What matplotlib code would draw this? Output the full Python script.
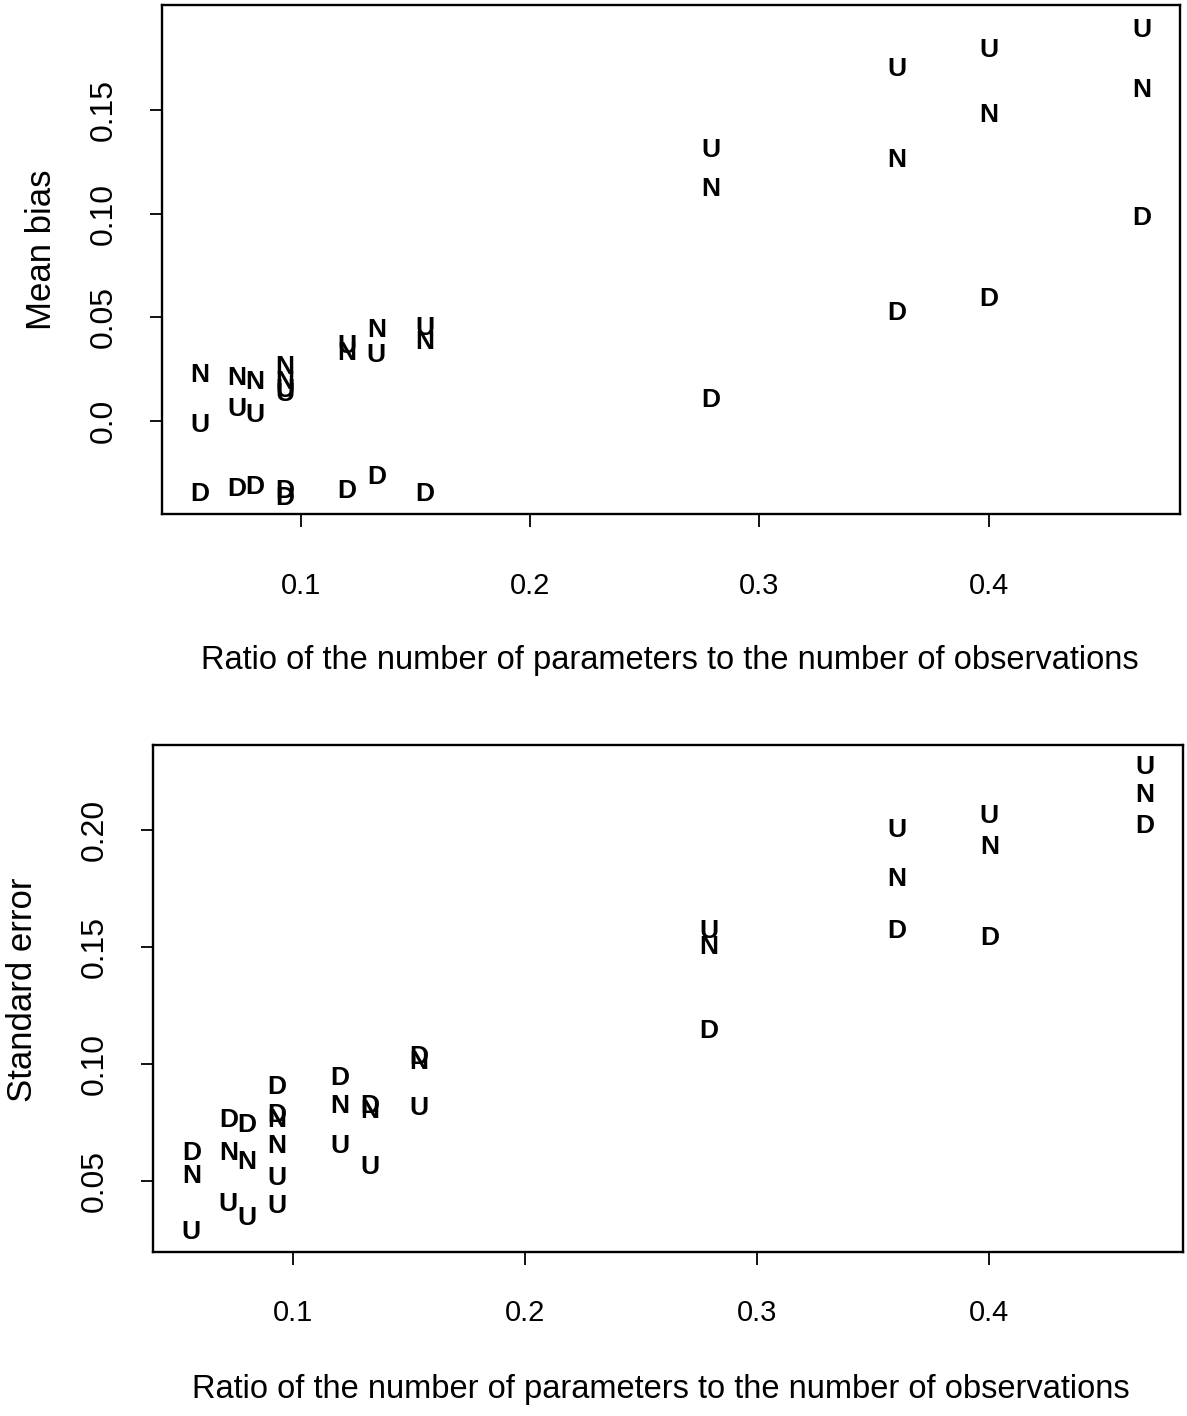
import matplotlib
matplotlib.use("Agg")
import matplotlib.pyplot as plt

plt.rcParams['font.family'] = ['Liberation Sans', 'DejaVu Sans']

# ratio of number of parameters to number of observations (one entry per design)
ratio = [0.056, 0.072, 0.080, 0.093, 0.093, 0.120, 0.133, 0.154, 0.279, 0.360, 0.400, 0.467]

# mean bias for the three methods
bias_U = [-0.002, 0.006, 0.003, 0.015, 0.013, 0.036, 0.032, 0.045, 0.131, 0.170, 0.179, 0.189]
bias_N = [0.022, 0.021, 0.019, 0.026, 0.019, 0.033, 0.044, 0.038, 0.112, 0.126, 0.148, 0.160]
bias_D = [-0.035, -0.033, -0.032, -0.034, -0.037, -0.034, -0.027, -0.035, 0.010, 0.052, 0.059, 0.098]

# standard error for the three methods
se_U = [0.028, 0.040, 0.034, 0.051, 0.039, 0.065, 0.056, 0.081, 0.157, 0.200, 0.206, 0.227]
se_N = [0.052, 0.062, 0.058, 0.076, 0.065, 0.082, 0.080, 0.101, 0.150, 0.179, 0.193, 0.215]
se_D = [0.062, 0.076, 0.074, 0.090, 0.078, 0.094, 0.082, 0.103, 0.114, 0.157, 0.154, 0.202]

x_ticks = [0.1, 0.2, 0.3, 0.4]
xlab = "Ratio of the number of parameters to the number of observations"


def letter_plot(ax, series, ylim, yticks, ylabel, xpad):
    for letter, ys in series:
        for x, y in zip(ratio, ys):
            ax.text(x, y, letter, ha="center", va="center", fontsize=19,
                    fontweight="bold")
    ax.set_xlim(0.0395, 0.4835)
    ax.set_ylim(*ylim)
    ax.set_xticks(x_ticks)
    ax.set_xticklabels([str(t) for t in x_ticks])
    ax.set_yticks(yticks)
    ax.set_yticklabels(["0.0" if t == 0 else "%.2f" % t for t in yticks],
                       rotation=90, va="center")
    ax.tick_params(axis="both", direction="out", length=9, width=1.3)
    ax.tick_params(axis="x", pad=xpad, labelsize=21)
    ax.tick_params(axis="y", pad=22, labelsize=23)
    for s in ax.spines.values():
        s.set_linewidth(1.7)
    ax.set_xlabel(xlab, fontsize=23.5)
    ax.set_ylabel(ylabel, fontsize=25)


fig = plt.figure(figsize=(11.87, 14.16), dpi=100)

ax1 = fig.add_axes([0.1365, 0.637, 0.8576, 0.3595])
letter_plot(ax1, [("U", bias_U), ("N", bias_N), ("D", bias_D)],
            (-0.0449, 0.2009), [0.0, 0.05, 0.10, 0.15], "Mean bias", 33)
ax1.xaxis.set_label_coords(0.499, -0.287)
ax1.xaxis.label.set_va("center")
ax1.yaxis.set_label_coords(-0.118, 0.519)
ax1.yaxis.label.set_va("center")

ax2 = fig.add_axes([0.1289, 0.1158, 0.8677, 0.358])
letter_plot(ax2, [("U", se_U), ("N", se_N), ("D", se_D)],
            (0.0195, 0.2365), [0.05, 0.10, 0.15, 0.20], "Standard error", 25)
ax2.xaxis.set_label_coords(0.493, -0.272)
ax2.xaxis.label.set_va("center")
ax2.yaxis.set_label_coords(-0.127, 0.517)
ax2.yaxis.label.set_va("center")

fig.savefig("out.png", dpi=100)
